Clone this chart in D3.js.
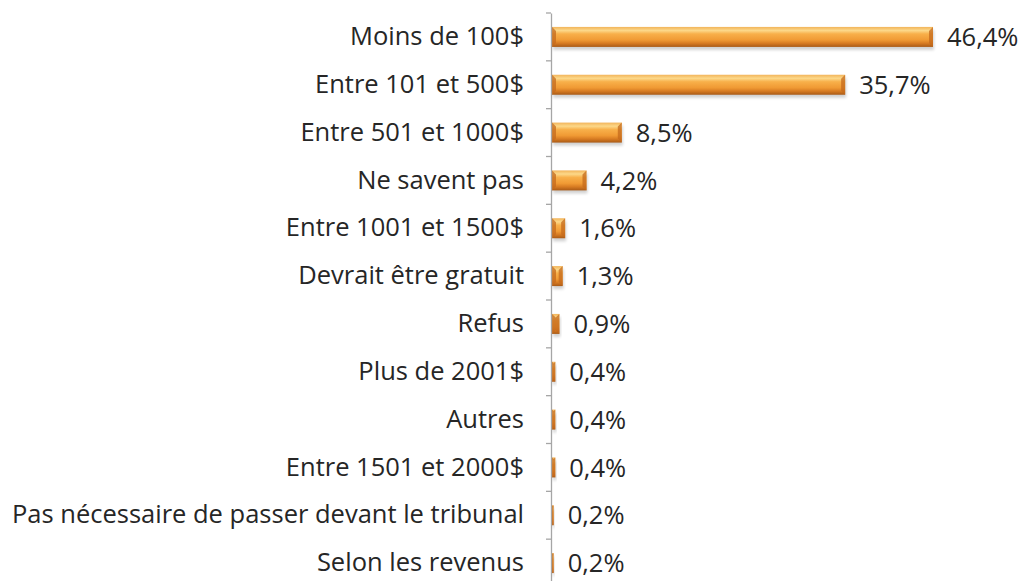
<!DOCTYPE html>
<html><head><meta charset="utf-8">
<script src="https://cdn.jsdelivr.net/npm/d3@7"></script>
<style>body{margin:0;background:#fff}svg{display:block}</style>
</head><body>
<svg id="c" width="1025" height="581"></svg>
<script>
const categories = ["Moins de 100$","Entre 101 et 500$","Entre 501 et 1000$","Ne savent pas","Entre 1001 et 1500$","Devrait être gratuit","Refus","Plus de 2001$","Autres","Entre 1501 et 2000$","Pas nécessaire de passer devant le tribunal","Selon les revenus"];
const values = [46.4,35.7,8.5,4.2,1.6,1.3,0.9,0.4,0.4,0.4,0.2,0.2];
const valueLabels = ["46,4%","35,7%","8,5%","4,2%","1,6%","1,3%","0,9%","0,4%","0,4%","0,4%","0,2%","0,2%"];

(function(){
const svg = d3.select("#c");
const x0 = 552, yTop = 13, yBottom = 587;
const font = "'Open Sans', sans-serif";
const fs = 25.5;
const x = d3.scaleLinear().domain([0, 46.4]).range([x0, 933]);
const yb = d3.scaleBand().domain(categories).range([yTop, yBottom]);

const defs = svg.append("defs");
const gv = defs.append("linearGradient").attr("id","gv").attr("x1",0).attr("y1",0).attr("x2",0).attr("y2",1);
[[0,"#f2b45a"],[0.18,"#fcd889"],[0.35,"#f8b04a"],[0.65,"#f09a34"],[0.82,"#d77b22"],[1,"#a95a16"]].forEach(s=>gv.append("stop").attr("offset",s[0]).attr("stop-color",s[1]));
const f = defs.append("filter").attr("id","sh").attr("x","-20%").attr("y","-50%").attr("width","140%").attr("height","200%");
f.append("feGaussianBlur").attr("stdDeviation",1.5);

const bh = 20;
const rows = svg.append("g").selectAll("g").data(categories).join("g");
const by = d => yb(d) + yb.bandwidth()/2 - bh/2;
const bw = (d,i) => Math.max(1.5, x(values[i]) - x0);
rows.append("rect")
  .attr("x", x0+1).attr("y", d => by(d)+3)
  .attr("width", bw).attr("height", bh)
  .attr("fill", "#000").attr("opacity", 0.18).attr("filter","url(#sh)");
rows.append("rect")
  .attr("x", x0).attr("y", by)
  .attr("width", bw).attr("height", bh)
  .attr("fill", "url(#gv)");
rows.append("path")
  .attr("fill", "#c46a1c").attr("opacity", 0.75)
  .attr("d", (d,i) => {
    const w = bw(d,i), y0 = by(d), b = Math.min(4, w/2), xs = x0, xe = x0 + w;
    return `M${xs},${y0}L${xs+b},${y0+b}L${xs+b},${y0+bh-b}L${xs},${y0+bh}Z` +
           `M${xe},${y0}L${xe-b},${y0+b}L${xe-b},${y0+bh-b}L${xe},${y0+bh}Z`;
  });

rows.append("text")
  .attr("x", (d,i) => x(values[i]) + 14)
  .attr("y", d => yb(d) + yb.bandwidth()/2)
  .attr("dy", "0.36em")
  .attr("font-family", font)
  .attr("font-size", fs)
  .attr("fill", "#262626")
  .text((d,i) => valueLabels[i]);

const axis = d3.axisLeft(yb).tickSize(0).tickPadding(27);
const ag = svg.append("g").attr("transform", `translate(${x0-1},0)`).call(axis);
ag.select(".domain").attr("stroke","#a6a6a6").attr("stroke-width",1.3);
ag.selectAll("text").attr("font-family",font).attr("font-size",fs).attr("fill","#262626");
const bounds = categories.map(c => yb(c)).concat([yBottom]);
svg.append("g").selectAll("line").data(bounds).join("line")
  .attr("x1", x0-6).attr("x2", x0-1)
  .attr("y1", d => d).attr("y2", d => d)
  .attr("stroke","#a6a6a6").attr("stroke-width",1.3);
})();
</script>
</body></html>
